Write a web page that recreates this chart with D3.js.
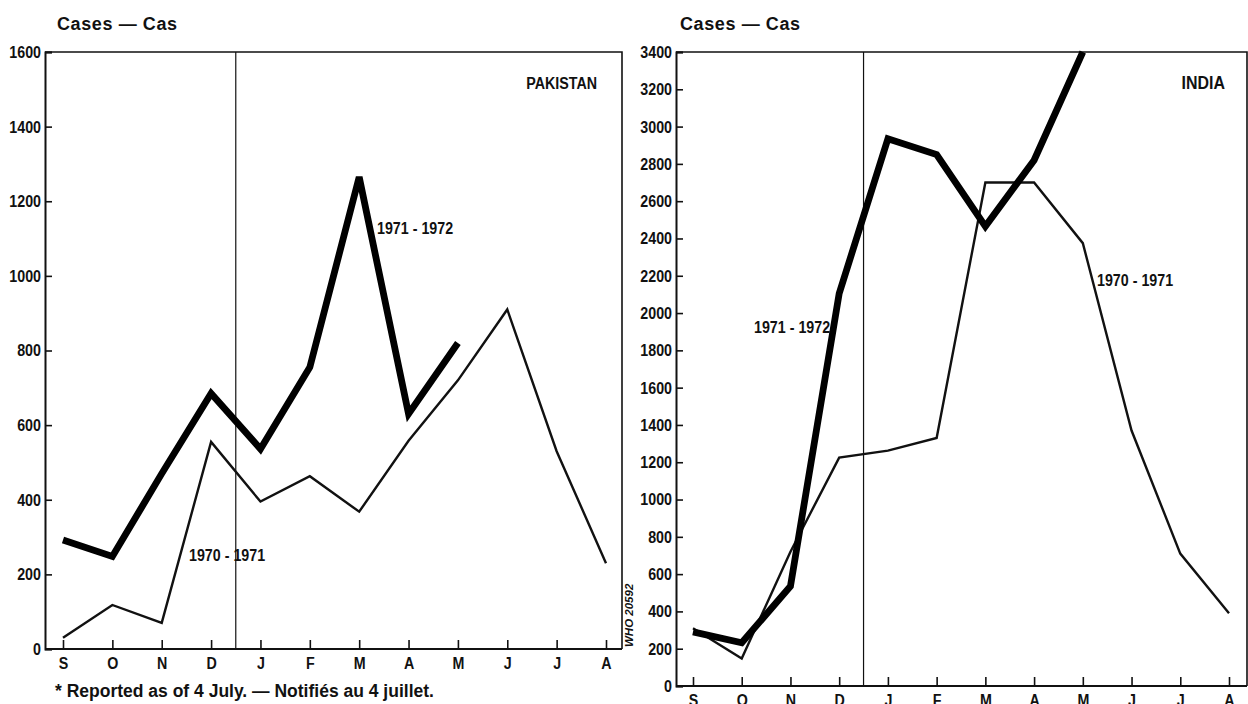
<!DOCTYPE html>
<html>
<head>
<meta charset="utf-8">
<script src="https://cdn.jsdelivr.net/npm/d3@7"></script>
<style>
  body { margin: 0; background: #fff; }
  svg { display: block; }
  text { fill: #111; }
</style>
</head>
<body>
<svg></svg>
<script>
var width = 1248;
var height = 704;

// month labels, Sept -> Aug
var months = ['S', 'O', 'N', 'D', 'J', 'F', 'M', 'A', 'M', 'J', 'J', 'A'];

// Pakistan, cases per month
var pakistan7071 = [30, 118, 70, 555, 395, 463, 368, 558, 720, 910, 530, 230];
var pakistan7172 = [292, 248, 470, 685, 536, 755, 1265, 630, 820];
var pakistanTicks = d3.range(0, 1601, 200);

// India, cases per month
var india7071 = [310, 148, 720, 1225, 1262, 1330, 2700, 2700, 2375, 1370, 710, 390];
var india7172 = [290, 232, 535, 2105, 2935, 2850, 2465, 2820, 3400];
var indiaTicks = d3.range(0, 3401, 200);

var svg = d3.select('svg')
    .attr('width', width)
    .attr('height', height);

var font = '"Liberation Sans", Arial, sans-serif';
var squeezeK = 0.84;   // fake a condensed face

// horizontally condense text without moving its anchor
var squeeze = function (sel) {
    sel.each(function () {
        var t = d3.select(this);
        var x = +t.attr('x') || 0;
        t.attr('x', x / squeezeK)
            .attr('transform', 'scale(' + squeezeK + ',1)');
    });
};

var boldText = function (parent, x, y, txt) {
    return parent.append('text')
        .attr('x', x).attr('y', y)
        .attr('font-family', font)
        .attr('font-weight', 'bold')
        .attr('font-size', 17)
        .text(txt)
        .call(squeeze);
};

var drawPanel = function (p) {
    var x = d3.scalePoint()
        .domain(d3.range(months.length))
        .range([p.xFirst, p.xLast]);

    var y = d3.scaleLinear()
        .domain([0, p.max])
        .range([p.bottom, p.top]);

    var g = svg.append('g');

    // frame: top + right border
    g.append('path')
        .attr('d', 'M' + p.left + ',' + p.top + 'H' + p.right + 'V' + p.bottom)
        .attr('fill', 'none')
        .attr('stroke', '#111')
        .attr('stroke-width', 1.6);

    // divider at new year
    var xd = (x(3) + x(4)) / 2;
    g.append('line')
        .attr('x1', xd).attr('x2', xd)
        .attr('y1', p.top).attr('y2', p.bottom)
        .attr('stroke', '#111')
        .attr('stroke-width', 1.2);

    // y axis, ticks inside
    var yAxis = d3.axisLeft(y)
        .tickValues(p.ticks)
        .tickSize(-7)
        .tickPadding(4)
        .tickFormat(d3.format('d'));
    var ya = g.append('g')
        .attr('transform', 'translate(' + p.left + ',0)')
        .call(yAxis);

    // x axis, ticks inside
    var xAxis = d3.axisBottom(x)
        .tickSize(-9)
        .tickPadding(14)
        .tickFormat(function (i) { return months[i]; });
    var xa = g.append('g')
        .attr('transform', 'translate(0,' + p.bottom + ')')
        .call(xAxis);
    xa.select('.domain').attr('d', 'M' + p.left + ',0H' + p.right);

    [ya, xa].forEach(function (a) {
        a.select('.domain').attr('stroke', '#111').attr('stroke-width', 2);
        a.selectAll('.tick line').attr('stroke', '#111').attr('stroke-width', 1.6);
        a.selectAll('.tick text')
            .attr('font-family', font)
            .attr('font-weight', 'bold')
            .attr('font-size', 17)
            .attr('fill', '#111')
            .call(squeeze);
    });
    xa.selectAll('.tick text').attr('dy', '0.35em');

    var line = d3.line()
        .x(function (d, i) { return x(i); })
        .y(function (d) { return y(d); });

    g.append('path')
        .datum(p.prev)
        .attr('d', line)
        .attr('fill', 'none')
        .attr('stroke', '#111')
        .attr('stroke-width', 2.4)
        .attr('stroke-linejoin', 'miter');

    g.append('path')
        .datum(p.curr)
        .attr('d', line)
        .attr('fill', 'none')
        .attr('stroke', '#000')
        .attr('stroke-width', 6.8)
        .attr('stroke-linejoin', 'miter');

    // titles and labels
    g.append('text')
        .attr('x', p.titleX).attr('y', 30)
        .attr('font-family', font)
        .attr('font-weight', 'bold')
        .attr('font-size', 18)
        .attr('letter-spacing', 0.6)
        .text('Cases \u2014 Cas');

    boldText(g, p.nameX, p.top + 37, p.name)
        .attr('text-anchor', 'end')
        .attr('font-size', p.nameSize);

    p.labels.forEach(function (l) {
        boldText(g, l.x, l.y, l.text);
    });
};

drawPanel({
    name: 'PAKISTAN', nameX: 597, nameSize: 17, titleX: 57,
    left: 45, right: 622, top: 52, bottom: 649,
    xFirst: 63, xLast: 606,
    max: 1600, ticks: pakistanTicks,
    prev: pakistan7071, curr: pakistan7172,
    labels: [
        { text: '1971 - 1972', x: 377, y: 234 },
        { text: '1970 - 1971', x: 189, y: 561 }
    ]
});

drawPanel({
    name: 'INDIA', nameX: 1225, nameSize: 19, titleX: 680,
    left: 676, right: 1247, top: 52, bottom: 686,
    xFirst: 693, xLast: 1229,
    max: 3400, ticks: indiaTicks,
    prev: india7071, curr: india7172,
    labels: [
        { text: '1971 - 1972', x: 754, y: 333 },
        { text: '1970 - 1971', x: 1097, y: 286 }
    ]
});

svg.append('text')
    .attr('x', 55).attr('y', 697)
    .attr('font-family', font)
    .attr('font-weight', 'bold')
    .attr('font-size', 17.5)
    .text('* Reported as of 4 July. \u2014 Notifi\u00e9s au 4 juillet.');

svg.append('text')
    .attr('transform', 'translate(633,647) rotate(-90)')
    .attr('font-family', font)
    .attr('font-style', 'italic')
    .attr('font-weight', 'bold')
    .attr('font-size', 11.5)
    .text('WHO 20592');
</script>
</body>
</html>
